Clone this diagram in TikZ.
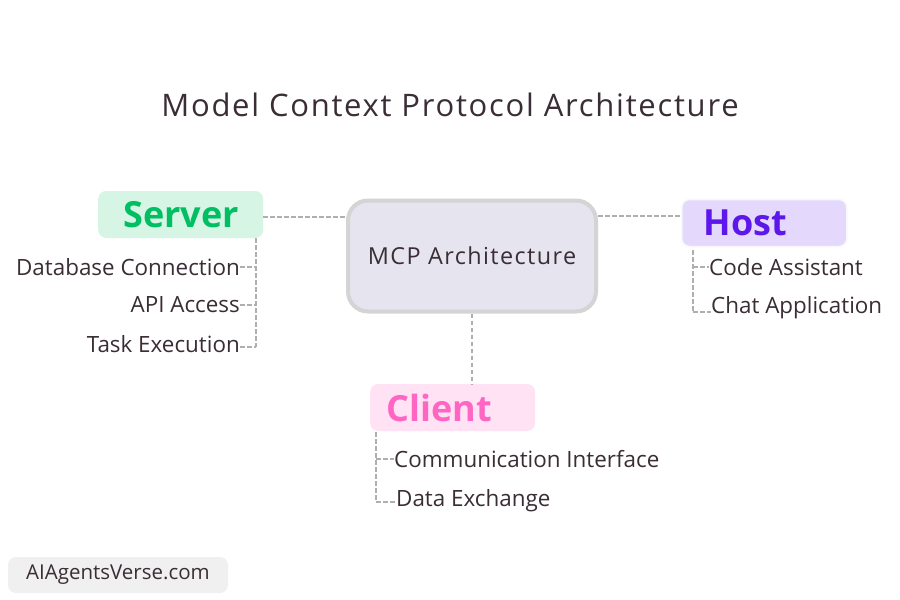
\documentclass[tikz,border=0pt]{standalone}
\usepackage{fontspec}
\setmainfont{Open Sans}
\usetikzlibrary{calc}
\definecolor{ink}{HTML}{3A2D35}
\definecolor{dashc}{HTML}{AFAFAF}
\definecolor{srvfill}{HTML}{D7F5E5}
\definecolor{srvtext}{HTML}{00BF63}
\definecolor{hostfill}{HTML}{E4D9FC}
\definecolor{hosttext}{HTML}{5E17EB}
\definecolor{clifill}{HTML}{FFE2F4}
\definecolor{clitext}{HTML}{FF66C4}
\definecolor{midfill}{HTML}{E6E4EF}
\definecolor{midline}{HTML}{D4D4D4}
\definecolor{wmfill}{HTML}{F1F0F1}
\tikzset{
  conn/.style={draw=dashc, line width=1.5pt, dash pattern=on 4.5pt off 2.5pt},
  item/.style={text=ink, inner sep=0pt, font=\fontsize{22.4}{26}\selectfont},
  headbox/.style={rounded corners=8pt, minimum height=47pt, inner ysep=0pt, align=left,
    font=\fontsize{36}{40}\selectfont\bfseries, anchor=west},
}
\begin{document}
\begin{tikzpicture}[x=1pt,y=-1pt]
\useasboundingbox (0,0) rectangle (900,600);
\fill[white] (0,0) rectangle (900,600);
% title
\node[text=ink, font=\fontsize{31}{36}\selectfont\addfontfeatures{LetterSpace=5.6}] (title) at (450,105) {Model Context Protocol Architecture};
% center
\node[draw=midline, line width=4pt, fill=midfill, rounded corners=20pt, minimum width=248pt, minimum height=111pt,
  text=ink, font=\fontsize{23.4}{27}\selectfont\addfontfeatures{LetterSpace=6}] (mcp) at (472,256) {MCP Architecture};
% heads
\node[headbox, fill=srvfill, text=srvtext, inner xsep=25pt, text width=115pt] (server) at (98,214.5) {Server};
\node[headbox, draw=hostfill!85!black!12!white, line width=1.5pt, fill=hostfill, text=hosttext, inner xsep=22pt, text width=121pt] (host) at (681,223) {Host};
\node[headbox, fill=clifill, text=clitext, inner xsep=16pt, text width=133pt] (client) at (370,407.5) {Client};
% main connectors
\coordinate (srvline) at (0,217);
\coordinate (hostline) at (0,216);
\draw[conn] (server.east |- srvline) -- (mcp.west |- srvline);
\draw[conn] (mcp.east |- hostline) -- (host.west |- hostline);
\draw[conn] (mcp.south) -- (client.north -| mcp.south);
% server items
\node[item, anchor=east] (s1) at (240,267) {Database Connection};
\node[item, anchor=east] (s2) at (240,305) {API Access};
\node[item, anchor=east] (s3) at (240,344) {Task Execution};
\coordinate (sv) at (256,238);
\coordinate (s1c) at (256,267);
\coordinate (s2c) at (256,305);
\coordinate (s3c) at (256,347);
\draw[conn, line width=1.2pt] (sv) -- (s3c);
\draw[conn, line width=1.2pt] (s1.east) -- (s1c);
\draw[conn, line width=1.2pt] (s2.east) -- (s2c);
\draw[conn, line width=1.2pt] (s3.east |- s3c) -- (s3c);
% host items
\node[item, anchor=west] (h1) at (709,267) {Code Assistant};
\node[item, anchor=west] (h2) at (711,308) {Chat Application};
\coordinate (hv) at (693,250);
\coordinate (h1c) at (693,267);
\coordinate (h2c) at (693,312);
\draw[conn, line width=1.2pt] (hv) -- (h2c);
\draw[conn, line width=1.2pt] (h1c) -- (h1.west);
\draw[conn, line width=1.2pt] (h2c) -- (h2.west |- h2c);
% client items
\node[item, anchor=west] (c1) at (394,459) {Communication Interface};
\node[item, anchor=west] (c2) at (396,501) {Data Exchange};
\coordinate (cv) at (376,432);
\coordinate (c1c) at (376,459);
\coordinate (c2c) at (376,502);
\draw[conn, line width=1.2pt] (cv) -- (c2c);
\draw[conn, line width=1.2pt] (c1c) -- (c1.west);
\draw[conn, line width=1.2pt] (c2c) -- (c2.west |- c2c);
% watermark
\node[fill=wmfill, rounded corners=8pt, minimum width=220pt, minimum height=36pt, text=ink,
  font=\fontsize{20.5}{24}\selectfont] (wm) at (118,575) {AIAgentsVerse.com};
\end{tikzpicture}
\end{document}
